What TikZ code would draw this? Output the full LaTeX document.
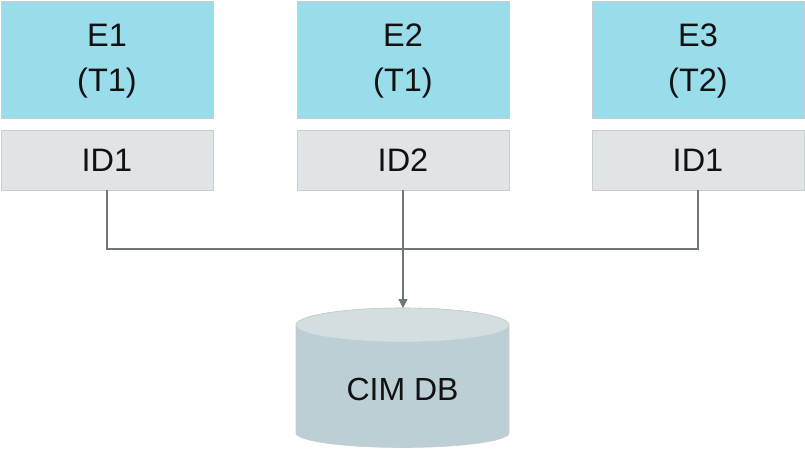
\documentclass[tikz,border=0pt]{standalone}
\usepackage{fontspec}
\setmainfont{Liberation Sans}
\usetikzlibrary{arrows.meta}
\definecolor{ecyan}{HTML}{99DDEA}
\definecolor{idgray}{HTML}{E1E4E6}
\definecolor{bordergray}{HTML}{C8CDCF}
\definecolor{linegray}{HTML}{6D777A}
\definecolor{cylbody}{HTML}{BCCFD5}
\definecolor{cyltop}{HTML}{D3DEE1}
\definecolor{txt}{HTML}{111111}
\newcommand{\etwo}[2]{\raisebox{-3.5pt}{\begin{tabular}{@{}c@{}}#1\\#2\end{tabular}}}
\tikzset{
  ebox/.style={draw=bordergray, line width=0.8pt, fill=ecyan, text=txt, minimum width=212pt, minimum height=117pt, inner sep=0pt, align=center, font=\fontsize{32.5}{45}\selectfont},
  idbox/.style={draw=bordergray, line width=0.8pt, fill=idgray, text=txt, minimum width=212pt, minimum height=60pt, inner sep=0pt, font=\fontsize{32.5}{45}\selectfont},
  conn/.style={draw=linegray, line width=1.3pt},
}
\begin{document}
\begin{tikzpicture}[x=1pt,y=-1pt]
\useasboundingbox (0,0) rectangle (805,450);
\node[ebox] (e1) at (107,59.5) {\etwo{E1}{(T1)}};
\node[ebox] (e2) at (403,59.5) {\etwo{E2}{(T1)}};
\node[ebox] (e3) at (698,59.5) {\etwo{E3}{(T2)}};
\node[idbox] (id1) at (107,160) {ID1};
\node[idbox] (id2) at (403,160) {ID2};
\node[idbox] (id3) at (698,160) {ID1};
% cylinder
\fill[cylbody, draw=bordergray, line width=0.6pt] (296,325) -- (296,433) arc[start angle=180, end angle=0, x radius=106.5, y radius=14.5] -- (509,325) arc[start angle=0, end angle=-180, x radius=106.5, y radius=17] -- cycle;
\fill[cyltop, draw=bordergray, line width=0.6pt] (402.5,325) ellipse[x radius=106.5, y radius=17];
\coordinate (dbtop) at (403,308);
\coordinate (join) at (403,249);
\node[font=\fontsize{32}{41}\selectfont, text=txt] (db) at (402.5,389) {CIM DB};
\draw[conn] (id1.south) |- (join);
\draw[conn] (id3.south) |- (join);
\draw[conn] (id2.south) -- (join);
\draw[conn, -{Triangle[length=9pt,width=9pt]}] (join) -- (dbtop);
\end{tikzpicture}
\end{document}
